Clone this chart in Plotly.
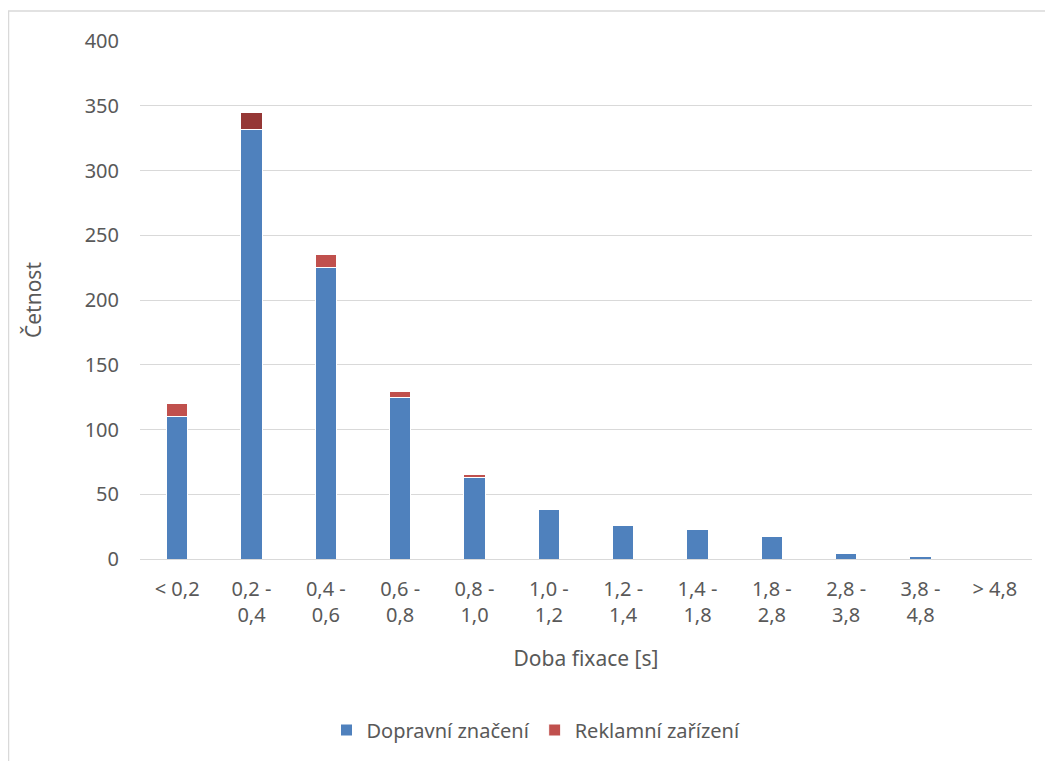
import plotly.graph_objects as go

categories = ["< 0,2", "0,2 -<br>0,4", "0,4 -<br>0,6", "0,6 -<br>0,8", "0,8 -<br>1,0",
              "1,0 -<br>1,2", "1,2 -<br>1,4", "1,4 -<br>1,8", "1,8 -<br>2,8",
              "2,8 -<br>3,8", "3,8 -<br>4,8", "> 4,8"]
dopravni = [110, 332, 225, 125, 63, 38, 26, 23, 17, 4, 2, 0]
reklamni = [10, 13, 10, 4, 2, 0, 0, 0, 0, 0, 0, 0]
reklamni_colors = ["#c0504d", "#953735"] + ["#c0504d"] * 10
y_ticks = [0, 50, 100, 150, 200, 250, 300, 350, 400]

FONT = "Noto Sans"
TXT = "#595959"
FS = 20

W, H = 1045, 753
L, R, T, B = 132, 21, 33, 202
PW, PH = W - L - R, H - T - B

fig = go.Figure()
fig.add_trace(go.Bar(x=categories, y=dopravni, name="Dopravní značení",
                     marker=dict(color="#4f81bd", line=dict(color="white", width=1))))
fig.add_trace(go.Bar(x=categories, y=reklamni, name="Reklamní zařízení",
                     marker=dict(color=reklamni_colors, line=dict(color="white", width=1))))

fig.update_layout(
    barmode="stack",
    bargap=0.71,
    width=W, height=H,
    margin=dict(l=L, r=R, t=T, b=B),
    plot_bgcolor="white", paper_bgcolor="white",
    font=dict(family=FONT, size=FS, color=TXT),
    showlegend=True,
    legend=dict(orientation="h", x=(528 - L) / PW, xanchor="center",
                y=(PH + T - 722) / PH, yanchor="middle",
                font=dict(family=FONT, size=FS, color=TXT), traceorder="normal",
                itemwidth=30),
    xaxis=dict(showgrid=False, showline=True, linecolor="#d9d9d9", linewidth=1,
               ticks="", tickfont=dict(size=FS, color=TXT), ticklabelstandoff=12,
               title=dict(text="Doba fixace [s]", font=dict(size=21, color=TXT), standoff=24)),
    yaxis=dict(range=[0, 400], tickvals=y_ticks, showgrid=True, gridcolor="#d9d9d9",
               gridwidth=1, zeroline=False, showline=False, ticks="",
               tickfont=dict(size=FS, color=TXT), ticklabelstandoff=20,
               title=dict(text="Četnost", font=dict(size=21, color=TXT), standoff=37)),
    shapes=[dict(type="rect", xref="paper", yref="paper",
                 x0=(0.5 - L) / PW, x1=1.2, y0=-0.6, y1=1 + (T - 3) / PH,
                 line=dict(color="#d9d9d9", width=1.5), layer="below")],
)

fig.write_html("out.html")
